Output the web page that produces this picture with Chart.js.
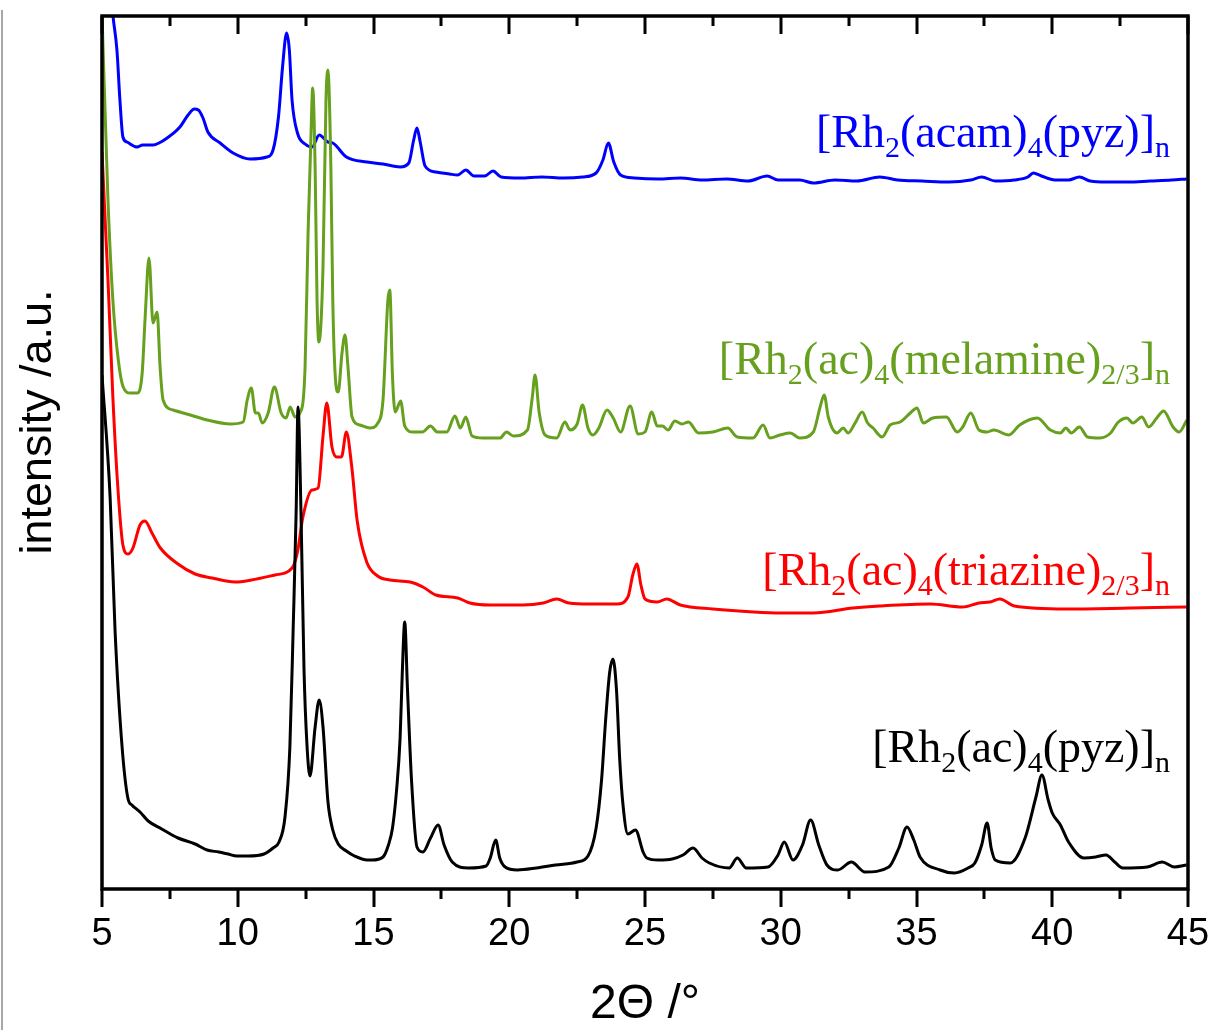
<!DOCTYPE html>
<html>
<head>
<meta charset="utf-8">
<script src="https://cdn.jsdelivr.net/npm/chart.js@4.4.1/dist/chart.umd.min.js"></script>
<style>
  html, body { margin: 0; padding: 0; background: #fff; }
  #wrap { position: relative; width: 1212px; height: 1030px; }
  #edge { position: absolute; left: 1px; top: 10px; width: 2px; height: 1020px; background: #a8a8a8; }
  canvas { display: block; }
</style>
</head>
<body>
<div id="wrap">
  <canvas id="xrd" width="1212" height="1030"></canvas>
  <div id="edge"></div>
</div>
<script>
// Powder XRD patterns, stacked with vertical offsets (intensity in a.u.)
// Each entry: [2θ in degrees, offset intensity]

const xMin = 5;
const xMax = 45;
const xTicks = [5, 10, 15, 20, 25, 30, 35, 40, 45];

// [Rh2(ac)4(pyz)]n
const acPyz = [
  [5.0, 513], [5.3, 390], [5.48, 258], [5.74, 141], [5.96, 89], [6.1, 83], [6.4, 76], [6.7, 67],
  [7.2, 59], [7.58, 53], [7.8, 50], [8.43, 44], [8.87, 38], [9.3, 36], [9.64, 34], [9.97, 32],
  [10.38, 32], [10.97, 34], [11.3, 40], [11.52, 46], [11.74, 71], [11.92, 141], [12.04, 258],
  [12.15, 375], [12.22, 481], [12.33, 375], [12.44, 219], [12.55, 143], [12.66, 112], [12.85, 161],
  [13.0, 188], [13.14, 161], [13.32, 87], [13.5, 58], [13.7, 44], [14.0, 37], [14.3, 32],
  [14.77, 28], [14.95, 28], [15.35, 31], [15.55, 43], [15.7, 60], [15.85, 98], [15.98, 150],
  [16.06, 215], [16.15, 266], [16.25, 200], [16.4, 108], [16.6, 41], [16.82, 36], [17.1, 50],
  [17.38, 63], [17.6, 43], [17.9, 26], [18.5, 20], [19.15, 22], [19.3, 30], [19.5, 48],
  [19.65, 30], [19.85, 21], [20.3, 18], [21.0, 20], [21.7, 23], [22.5, 26], [22.9, 32],
  [23.2, 60], [23.4, 108], [23.55, 168], [23.7, 216], [23.82, 229], [23.95, 198], [24.07, 128],
  [24.19, 83], [24.37, 54], [24.65, 58], [24.93, 36], [25.07, 30], [25.5, 28], [26.0, 29],
  [26.4, 33], [26.77, 40], [27.1, 30], [27.37, 25], [28.1, 20], [28.4, 30], [28.73, 20],
  [29.53, 21], [29.9, 33], [30.13, 46], [30.45, 28], [30.8, 43], [31.1, 68], [31.4, 43],
  [31.7, 23], [32.1, 18], [32.6, 26], [33.1, 16], [33.98, 21], [34.35, 40], [34.65, 61],
  [34.9, 48], [35.13, 31], [35.87, 18], [36.4, 15], [36.9, 20], [37.15, 25], [37.4, 43],
  [37.6, 65], [37.75, 40], [37.9, 28], [38.45, 25], [39.0, 50], [39.4, 91], [39.62, 113],
  [39.85, 88], [40.0, 75], [40.3, 63], [40.6, 46], [41.17, 30], [41.6, 31], [41.98, 33],
  [42.3, 26], [42.6, 20], [43.5, 21], [44.05, 26], [44.5, 21], [44.95, 23]
];

// [Rh2(ac)4(triazine)2/3]n
const acTriazine = [
  [5.0, 736], [5.15, 648], [5.22, 608], [5.4, 491], [5.57, 406], [5.77, 343], [5.96, 334],
  [6.14, 340], [6.4, 363], [6.58, 367], [6.84, 355], [7.15, 340], [7.8, 324], [8.43, 314],
  [9.05, 310], [9.9, 306], [10.5, 308], [11.37, 313], [12.0, 320], [12.2, 336], [12.4, 371],
  [12.73, 398], [12.96, 400], [13.14, 452], [13.28, 485], [13.47, 441], [13.65, 431],
  [13.82, 431], [14.0, 456], [14.2, 421], [14.4, 367], [14.75, 326], [15.15, 312], [15.6, 308],
  [16.35, 306], [16.82, 301], [17.3, 293], [18.1, 290], [18.55, 285], [19.3, 283], [20.5, 283],
  [21.25, 285], [21.75, 289], [22.2, 285], [22.97, 284], [23.97, 284], [24.37, 291],
  [24.55, 313], [24.7, 324], [24.85, 303], [25.0, 289], [25.45, 286], [25.8, 289], [26.3, 283],
  [27.5, 279], [29.0, 276], [30.0, 275], [31.2, 275], [32.66, 280], [33.65, 282], [35.5, 284],
  [36.7, 281], [37.3, 285], [37.7, 286], [38.07, 289], [38.6, 282], [40.5, 279], [42.9, 280],
  [44.95, 281]
];

// [Rh2(ac)4(melamine)2/3]n
const acMelamine = [
  [5.0, 874], [5.22, 688], [5.4, 588], [5.6, 528], [5.78, 501], [6.04, 495], [6.3, 495],
  [6.48, 515], [6.59, 571], [6.73, 630], [6.88, 565], [7.03, 576], [7.14, 521], [7.25, 488],
  [7.62, 478], [8.25, 473], [8.87, 468], [9.72, 464], [10.2, 466], [10.35, 488], [10.5, 500],
  [10.65, 475], [10.76, 475], [10.9, 465], [11.12, 475], [11.35, 501], [11.6, 475], [11.78, 470],
  [11.93, 481], [12.11, 471], [12.29, 475], [12.48, 521], [12.59, 655], [12.7, 755], [12.76, 800],
  [12.85, 721], [12.92, 588], [12.99, 546], [13.14, 621], [13.25, 788], [13.32, 818],
  [13.43, 721], [13.5, 588], [13.61, 505], [13.7, 496], [13.84, 535], [13.95, 553], [14.06, 521],
  [14.21, 471], [14.5, 463], [14.87, 460], [15.16, 465], [15.35, 488], [15.53, 588], [15.6, 598],
  [15.7, 511], [15.8, 476], [16.0, 487], [16.15, 462], [16.45, 456], [16.8, 456], [17.1, 462],
  [17.35, 456], [17.7, 456], [18.0, 472], [18.2, 460], [18.4, 471], [18.63, 452], [19.03, 450],
  [19.66, 450], [19.9, 456], [20.15, 452], [20.67, 458], [20.85, 491], [20.95, 513], [21.1, 476],
  [21.32, 453], [21.75, 450], [22.05, 466], [22.24, 458], [22.5, 464], [22.7, 483], [22.9, 460],
  [23.08, 453], [23.3, 460], [23.6, 478], [23.83, 470], [24.1, 456], [24.45, 482], [24.75, 454],
  [25.0, 456], [25.25, 476], [25.45, 462], [25.64, 462], [25.85, 458], [26.1, 467], [26.36, 464],
  [26.6, 466], [26.97, 455], [27.5, 456], [28.05, 460], [28.4, 451], [28.98, 450], [29.35, 463],
  [29.6, 450], [29.97, 453], [30.35, 455], [30.7, 450], [31.2, 456], [31.45, 481], [31.6, 493],
  [31.75, 471], [32.07, 455], [32.3, 460], [32.48, 455], [32.74, 465], [33.0, 476], [33.2, 465],
  [33.4, 460], [33.73, 451], [34.03, 463], [34.4, 466], [34.77, 475], [35.02, 480], [35.25, 465],
  [35.6, 470], [36.1, 471], [36.5, 456], [36.7, 461], [37.0, 475], [37.3, 458], [37.6, 456],
  [37.85, 458], [38.4, 453], [38.8, 463], [39.45, 470], [39.93, 458], [40.3, 455], [40.5, 460],
  [40.7, 455], [41.0, 461], [41.3, 451], [41.75, 450], [42.15, 455], [42.4, 465], [42.75, 470],
  [42.97, 465], [43.3, 471], [43.55, 461], [43.85, 470], [44.1, 477], [44.45, 461], [44.67, 456],
  [44.96, 468]
];

// [Rh2(acam)4(pyz)]n
const acamPyz = [
  [5.3, 903], [5.4, 873], [5.55, 838], [5.66, 788], [5.77, 751], [5.92, 746], [6.29, 741],
  [6.5, 743], [6.88, 743], [7.1, 745], [7.4, 750], [7.87, 761], [8.17, 773], [8.4, 779],
  [8.55, 778], [8.72, 770], [8.9, 756], [9.35, 745], [9.83, 735], [10.45, 729], [11.07, 731],
  [11.3, 738], [11.5, 771], [11.65, 821], [11.8, 855], [11.9, 838], [12.0, 788], [12.2, 755],
  [12.48, 744], [12.74, 741], [13.0, 753], [13.32, 746], [13.5, 745], [14.0, 731], [14.76, 726],
  [15.35, 724], [15.98, 721], [16.3, 725], [16.48, 748], [16.6, 760], [16.72, 746], [16.9, 722],
  [17.3, 716], [17.8, 714], [18.1, 713], [18.4, 718], [18.7, 712], [19.1, 712], [19.4, 717],
  [19.7, 711], [20.4, 710], [21.2, 711], [22.0, 710], [22.7, 711], [23.2, 715], [23.45, 728],
  [23.65, 745], [23.85, 726], [24.1, 713], [24.6, 710], [25.5, 709], [26.3, 710], [27.1, 708],
  [28.0, 709], [28.8, 707], [29.5, 712], [29.9, 708], [30.7, 708], [31.2, 705], [32.0, 708],
  [32.8, 707], [33.65, 711], [34.3, 708], [35.2, 707], [36.2, 706], [37.0, 708], [37.4, 711],
  [37.9, 707], [38.6, 708], [39.1, 711], [39.3, 715], [39.6, 712], [40.1, 708], [40.6, 708],
  [41.0, 711], [41.4, 707], [42.0, 706], [42.8, 706], [43.6, 707], [44.4, 708], [44.95, 709]
];

// Sample labels: alternating normal / subscript pieces
const labelPyz = ['[Rh', '2', '(ac)', '4', '(pyz)]', 'n'];
const labelTriazine = ['[Rh', '2', '(ac)', '4', '(triazine)', '2/3', ']', 'n'];
const labelMelamine = ['[Rh', '2', '(ac)', '4', '(melamine)', '2/3', ']', 'n'];
const labelAcam = ['[Rh', '2', '(acam)', '4', '(pyz)]', 'n'];

const xTitle = '2\u0398 /\u00b0';
const yTitle = 'intensity /a.u.';

const toPoints = arr => arr.map(([x, y]) => ({ x, y }));

const GREEN = '#66A01E';
const SANS = '"Liberation Sans", Arial, sans-serif';
const SERIF = '"Liberation Serif", "Times New Roman", serif';

const series = [
  { data: acPyz, color: '#000000', label: labelPyz, baseline: 762 },
  { data: acTriazine, color: '#FF0000', label: labelTriazine, baseline: 585 },
  { data: acMelamine, color: GREEN, label: labelMelamine, baseline: 374 },
  { data: acamPyz, color: '#0000FF', label: labelAcam, baseline: 147 }
];

// Frame with inward ticks on top, outward ticks at the bottom, minor ticks every 2.5°
const framePlugin = {
  id: 'frame',
  afterDatasetsDraw(chart) {
    const { ctx, chartArea: a, scales: { x } } = chart;
    ctx.save();
    ctx.strokeStyle = '#000';
    ctx.lineWidth = 3.5;
    ctx.lineCap = 'butt';
    ctx.strokeRect(a.left, a.top, a.right - a.left, a.bottom - a.top);
    ctx.lineWidth = 3;
    for (let v = xMin; v <= xMax + 1e-9; v += 2.5) {
      const px = Math.round(x.getPixelForValue(v));
      const major = Math.abs(v % 5) < 1e-9;
      const len = major ? 18 : 10;
      ctx.beginPath();
      ctx.moveTo(px, a.bottom);
      ctx.lineTo(px, a.bottom + len);
      ctx.moveTo(px, a.top);
      ctx.lineTo(px, a.top + len);
      ctx.stroke();
    }
    ctx.restore();
  }
};

// Axis titles and the sample labels beside each trace
const textPlugin = {
  id: 'texts',
  afterDraw(chart) {
    const { ctx, chartArea: a } = chart;
    ctx.save();
    ctx.fillStyle = '#000';
    ctx.textAlign = 'center';
    ctx.textBaseline = 'middle';
    ctx.font = '48px ' + SANS;
    ctx.fillText(xTitle, (a.left + a.right) / 2, 1005);
    ctx.font = '45px ' + SANS;
    ctx.translate(39, 422);
    ctx.rotate(-Math.PI / 2);
    ctx.fillText(yTitle, 0, 0);
    ctx.restore();

    const mainFont = '46px ' + SERIF;
    const subFont = '30px ' + SERIF;
    const rightEdge = 1170;
    series.forEach(s => {
      ctx.save();
      ctx.fillStyle = s.color;
      ctx.textBaseline = 'alphabetic';
      ctx.textAlign = 'left';
      let total = 0;
      s.label.forEach((part, i) => {
        ctx.font = i % 2 ? subFont : mainFont;
        total += ctx.measureText(part).width;
      });
      let cx = rightEdge - total;
      s.label.forEach((part, i) => {
        const sub = i % 2 === 1;
        ctx.font = sub ? subFont : mainFont;
        ctx.fillText(part, cx, s.baseline + (sub ? 10 : 0));
        cx += ctx.measureText(part).width;
      });
      ctx.restore();
    });
  }
};

new Chart(document.getElementById('xrd'), {
  type: 'line',
  data: {
    datasets: series.map(s => ({
      data: toPoints(s.data),
      borderColor: s.color,
      borderWidth: 3,
      pointRadius: 0,
      fill: false,
      cubicInterpolationMode: 'monotone'
    }))
  },
  options: {
    responsive: false,
    devicePixelRatio: 1,
    animation: false,
    events: [],
    layout: { padding: { top: 16, right: 24, left: 0, bottom: 0 } },
    plugins: { legend: { display: false }, tooltip: { enabled: false } },
    scales: {
      x: {
        type: 'linear',
        min: xMin,
        max: xMax,
        afterBuildTicks: scale => { scale.ticks = xTicks.map(v => ({ value: v })); },
        afterFit: scale => {
          scale.height = 141;
          scale.paddingLeft = 0;
          scale.paddingRight = 0;
        },
        grid: { display: false, drawTicks: false },
        border: { display: false },
        ticks: {
          padding: 23,
          color: '#000',
          maxRotation: 0,
          autoSkip: false,
          font: { family: SANS, size: 38 },
          callback: v => String(v)
        },
        title: { display: false }
      },
      y: {
        min: -1,
        max: 872,
        afterFit: scale => { scale.width = 102; },
        grid: { display: false, drawTicks: false },
        border: { display: false },
        ticks: { display: false }
      }
    }
  },
  plugins: [framePlugin, textPlugin]
});
</script>
</body>
</html>
